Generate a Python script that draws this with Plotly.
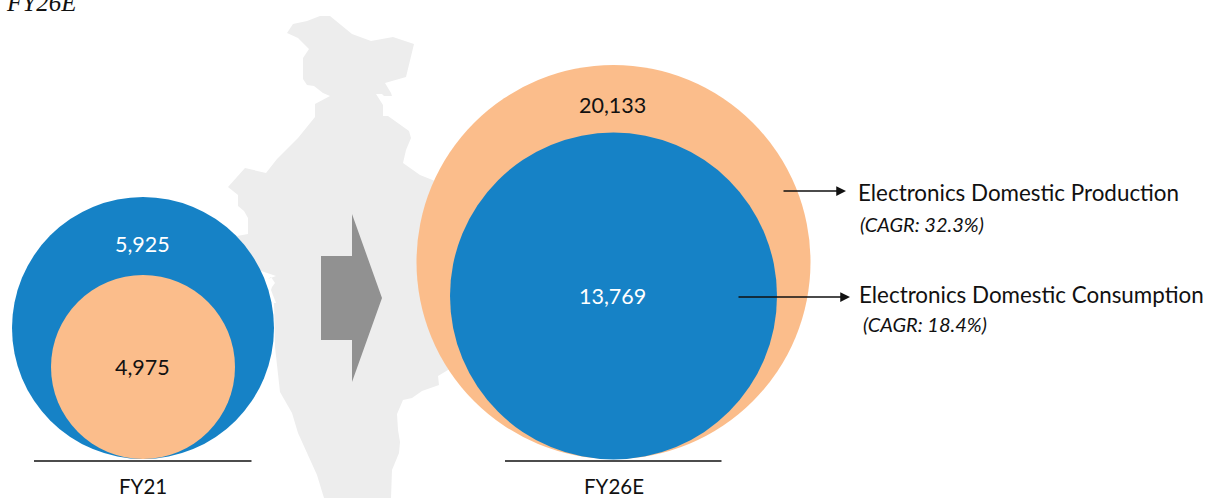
import plotly.graph_objects as go

# ---------- data ----------
periods = ["FY21", "FY26E"]
production = [4975, 20133]
consumption = [5925, 13769]
series_names = ["Electronics Domestic Production", "Electronics Domestic Consumption"]
cagr_labels = ["(CAGR: 32.3%)", "(CAGR: 18.4%)"]
caption = "FY26E"

# ---------- layout geometry (page pixels; the bubbles are not to scale in the source) ----------
W, H = 1205, 498
BLUE, ORANGE = "#1682C6", "#FBBD8B"
FONT = "Lato"

bubble_x = [143, 613.5]
prod_y = [367, 262]
prod_d = [184, 394]
cons_y = [328, 296]
cons_d = [262, 327]
base_y = 461
base_half = [109, 108.5]

map_x = [320, 330, 352, 371, 393, 414, 406, 385, 391, 392, 384, 382, 376, 383, 383, 388, 409, 411, 406, 403, 420, 435,
         460, 460, 448, 438, 439, 422, 412, 403, 397, 398, 400, 399, 392, 391,
         324, 317, 298, 292, 280, 275, 274, 276, 271, 272, 275, 271, 268, 276, 250, 233,
         237, 248, 248, 244, 238, 238, 228, 245, 266, 277, 298, 315, 315, 330, 323, 314, 307, 303, 303, 309, 298, 287, 293, 307]
map_y = [16, 16, 34, 41, 37, 44, 77, 83, 93, 96, 96, 94, 94, 105, 116, 116, 131, 138, 150, 163, 175, 181,
         200, 365, 370, 376, 385, 391, 398, 400, 414, 430, 442, 453, 470, 498,
         498, 475, 433, 413, 392, 347, 303, 303, 290, 287, 283, 277, 279, 276, 267, 267,
         236, 234, 218, 211, 206, 195, 187, 168, 173, 159, 138, 117, 104, 96, 93, 86, 85, 79, 58, 49, 38, 33, 24, 21]

arrow_x = [321, 352, 352, 382, 352, 352, 321]
arrow_y = [256, 256, 214, 298, 382, 340, 340]

fig = go.Figure()

# India silhouette and the block arrow
fig.add_trace(go.Scatter(x=map_x, y=map_y, mode="lines", fill="toself", fillcolor="#EDEDED",
                         line=dict(width=0), hoverinfo="skip", showlegend=False))
fig.add_trace(go.Scatter(x=arrow_x, y=arrow_y, mode="lines", fill="toself", fillcolor="#919191",
                         line=dict(width=0), hoverinfo="skip", showlegend=False))


def bubble(i, y, d, color, name, value):
    fig.add_trace(go.Scatter(x=[bubble_x[i]], y=[y], mode="markers", name=name,
                             marker=dict(size=d, sizemode="diameter", color=color, line=dict(width=0)),
                             hovertext=[f"{periods[i]}: {value:,}"], hoverinfo="text", showlegend=False))


# FY21: consumption encloses production; FY26E: production encloses consumption
bubble(0, cons_y[0], cons_d[0], BLUE, series_names[1], consumption[0])
bubble(0, prod_y[0], prod_d[0], ORANGE, series_names[0], production[0])
bubble(1, prod_y[1], prod_d[1], ORANGE, series_names[0], production[1])
bubble(1, cons_y[1], cons_d[1], BLUE, series_names[1], consumption[1])

ann = []


def label(x, y, text, size=21.5, color="#111111", anchor="center", italic=False, family=FONT):
    ann.append(dict(x=x, y=y, text=text, showarrow=False, xanchor=anchor, yanchor="middle",
                    font=dict(family=family, size=size, color=color, style="italic" if italic else "normal")))


label(142.5, 243.5, f"{consumption[0]:,}", color="white")
label(142.5, 366.5, f"{production[0]:,}")
label(612.5, 105, f"{production[1]:,}")
label(612.5, 295.5, f"{consumption[1]:,}", color="white")
for i, p in enumerate(periods):
    label(bubble_x[i], 485.5, p, size=20.5)
    fig.add_shape(type="line", x0=bubble_x[i] - base_half[i], x1=bubble_x[i] + base_half[i] - 0.5,
                  y0=base_y, y1=base_y, line=dict(color="#111111", width=1.3))

label(855.5, 192, series_names[0], size=22.4, anchor="left")
label(856.5, 294.5, series_names[1], size=22.4, anchor="left")
label(857.5, 223.5, cagr_labels[0], size=20, anchor="left", italic=True)
label(860.5, 323.5, cagr_labels[1], size=20, anchor="left", italic=True)
label(4, 2.5, caption, size=25, anchor="left", italic=True, family="Liberation Serif")

for x0, x1, y in [(782, 846, 191), (737, 850, 297)]:
    ann.append(dict(x=x1, y=y, ax=x0, ay=y, axref="x", ayref="y", xref="x", yref="y", text="",
                    showarrow=True, arrowhead=2, arrowsize=1.3, arrowwidth=1.5, arrowcolor="#111111"))

fig.update_layout(
    width=W, height=H, margin=dict(l=0, r=0, t=0, b=0),
    paper_bgcolor="white", plot_bgcolor="white", showlegend=False, annotations=ann,
    xaxis=dict(range=[0, W], visible=False, fixedrange=True),
    yaxis=dict(range=[H, 0], visible=False, fixedrange=True),
)
fig.write_html("out.html", config=dict(displayModeBar=False),
               post_script="document.body.style.margin='0';document.body.style.overflow='hidden';")
